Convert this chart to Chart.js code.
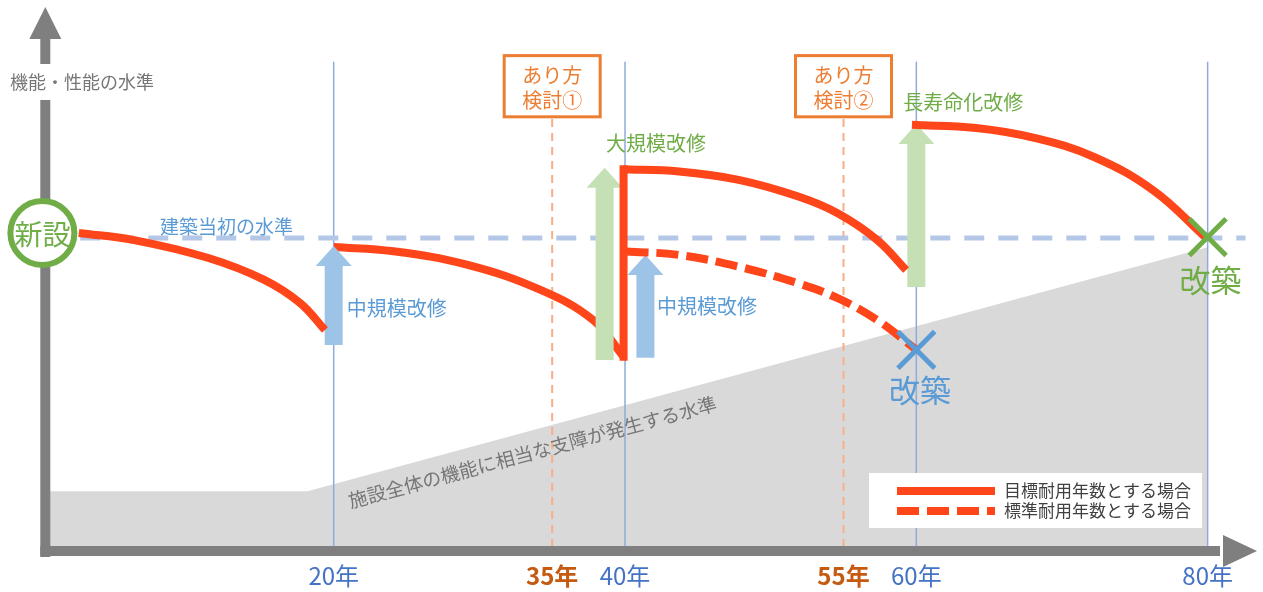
<!DOCTYPE html>
<html lang="ja">
<head>
<meta charset="utf-8">
<title>施設の長寿命化イメージ</title>
<script src="https://cdn.jsdelivr.net/npm/chart.js@4.4.1/dist/chart.umd.min.js"></script>
<style>
  html, body { margin: 0; padding: 0; background: #fff; }
  #wrap { width: 1263px; height: 592px; position: relative; }
</style>
</head>
<body>
<div id="wrap"><canvas id="chartKaishu"></canvas></div>
<script>
// ---- data (years on x, level of function on y; 100 = level when built) ----
const tickYears = [20, 35, 40, 55, 60, 80];
const reviewYears = [35, 55];
const reviewLabels = [['あり方', '検討①'], ['あり方', '検討②']];
const repairYears = [20, 40, 60, 80];

const initialLevel = 100;

const curve1Years = [2.5, 6.3, 11.4, 15.2, 17.7, 19.4];
const curve1Level = [101.6, 99.3, 93.5, 86.5, 78.9, 70.2];

const curve2Years = [20, 24.1, 29.2, 34.2, 37.8, 39.9];
const curve2Level = [97.1, 95.7, 91.3, 83.2, 73.5, 61.6];

const jumpYears = [39.9, 39.9];
const jumpLevel = [61.6, 122.2];

const curve3Years = [39.9, 43.7, 47.8, 51.9, 54.6, 57.3, 59.3];
const curve3Level = [122.2, 121.5, 118.8, 113.4, 108.0, 99.4, 89.6];

const standardYears = [40.1, 43.7, 47.8, 51.9, 54.6, 57.3, 60];
const standardLevel = [95.6, 94.5, 90.7, 85.3, 80.5, 73.5, 63.8];

const curve4Years = [59.7, 64.1, 68.1, 72.2, 76.3, 79.8];
const curve4Level = [136.6, 135.6, 132.4, 126.2, 115.3, 100.4];

const limitYears = [0.5, 18.2, 80];
const limitLevel = [18, 18, 97];

const rebuildYears = [60, 80];
const rebuildLevel = [63.8, 100.3];

// arrows: year, bottom level, tip level
const midRepairs = [[20, 65.4, 97.4], [41.4, 61.2, 94.5]];
const bigRepairs = [[38.6, 60.5, 122.7], [60, 84.1, 136.9]];

const legendLabels = ['目標耐用年数とする場合', '標準耐用年数とする場合'];

// ---- helpers ----
const FONT = '"Noto Sans CJK JP", "Noto Sans", sans-serif';
const RED = '#ff451a';
const BLUE_TXT = '#5b9bd5';
const GREEN = '#70ad47';
const ORANGE = '#ed7d31';
const GRAY = '#7f7f7f';

const pts = (xs, ys) => xs.map((x, i) => ({ x: x, y: ys[i] }));
const isReview = c => !!(c && c.tick && reviewYears.includes(c.tick.value));

function lineSet(label, data, color, width, order, extra) {
    return Object.assign({
        label: label,
        data: data,
        borderColor: color,
        borderWidth: width,
        pointRadius: 0,
        fill: false,
        tension: 0,
        order: order
    }, extra || {});
}

const datasets = [];

datasets.push(lineSet('limit', pts(limitYears, limitLevel), 'rgba(0,0,0,0)', 0, 20, {
    fill: 'origin', backgroundColor: '#d9d9d9'
}));

repairYears.forEach(y => {
    datasets.push(lineSet('repair' + y, pts([y, y], [0, 157]), '#8faadc', 1.5, 18));
});
reviewYears.forEach(y => {
    datasets.push(lineSet('review' + y, pts([y, y], [0, 138.8]), '#f4b183', 2, 18, { borderDash: [8, 6] }));
});

datasets.push(lineSet('initial', pts([2.6, 82.6], [initialLevel, initialLevel]), '#b4c7e7', 5, 16, { borderDash: [20, 14] }));

const smooth = { tension: 0.4, borderCapStyle: 'butt' };
datasets.push(lineSet('curve1', pts(curve1Years, curve1Level), RED, 8, 12, smooth));
datasets.push(lineSet('curve2', pts(curve2Years, curve2Level), RED, 8, 12, smooth));
datasets.push(lineSet('jump', pts(jumpYears, jumpLevel), RED, 8, 8, { borderCapStyle: 'square' }));
datasets.push(lineSet('curve3', pts(curve3Years, curve3Level), RED, 8, 8, smooth));
datasets.push(lineSet('standard', pts(standardYears, standardLevel), RED, 8, 8, Object.assign({ borderDash: [22, 8] }, smooth)));
datasets.push(lineSet('curve4', pts(curve4Years, curve4Level), RED, 8, 8, smooth));

datasets.push({
    label: 'rebuild',
    data: pts(rebuildYears, rebuildLevel),
    showLine: false,
    pointStyle: 'crossRot',
    pointRadius: 26,
    pointBorderWidth: 5,
    pointBorderColor: ['#5b9bd5', GREEN],
    clip: false,
    order: 2
});

const curve2Index = datasets.findIndex(d => d.label === 'curve2');

// ---- drawing helpers ----
function drawArrow(ctx, x, yBottom, yTip, color) {
    const shaft = 18, head = 36, headH = 20;
    ctx.fillStyle = color;
    ctx.beginPath();
    ctx.moveTo(x - shaft / 2, yBottom);
    ctx.lineTo(x - shaft / 2, yTip + headH);
    ctx.lineTo(x - head / 2, yTip + headH);
    ctx.lineTo(x, yTip);
    ctx.lineTo(x + head / 2, yTip + headH);
    ctx.lineTo(x + shaft / 2, yTip + headH);
    ctx.lineTo(x + shaft / 2, yBottom);
    ctx.closePath();
    ctx.fill();
}

function text(ctx, str, x, y, size, color, align, weight) {
    ctx.font = (weight || 'normal') + ' ' + size + 'px ' + FONT;
    ctx.fillStyle = color;
    ctx.textAlign = align || 'left';
    ctx.textBaseline = 'middle';
    ctx.fillText(str, x, y);
}

const decor = {
    id: 'decor',
    afterDatasetDraw(chart, args) {
        if (args.index !== curve2Index) return;
        const { ctx, scales: { x, y } } = chart;
        ctx.save();
        midRepairs.forEach(a => drawArrow(ctx, x.getPixelForValue(a[0]), y.getPixelForValue(a[1]), y.getPixelForValue(a[2]), '#9dc3e6'));
        bigRepairs.forEach(a => drawArrow(ctx, x.getPixelForValue(a[0]), y.getPixelForValue(a[1]), y.getPixelForValue(a[2]), '#c5e0b4'));
        ctx.restore();
    },
    afterDatasetsDraw(chart) {
        const { ctx, scales: { x, y }, chartArea } = chart;
        const X = v => x.getPixelForValue(v);
        const Y = v => y.getPixelForValue(v);
        ctx.save();

        // axes with arrow heads
        const ax = X(0.2), ay = chartArea.bottom + 4;
        ctx.fillStyle = GRAY;
        ctx.fillRect(ax - 5, 38, 10, ay - 38 + 6);
        ctx.beginPath();
        ctx.moveTo(ax - 16, 39); ctx.lineTo(ax + 16, 39); ctx.lineTo(ax, 7);
        ctx.closePath(); ctx.fill();
        ctx.fillRect(ax - 5, ay - 5, 1225 - ax, 10);
        ctx.beginPath();
        ctx.moveTo(1223, ay - 16); ctx.lineTo(1223, ay + 16); ctx.lineTo(1257, ay);
        ctx.closePath(); ctx.fill();

        // y axis title
        ctx.fillStyle = '#fff';
        ctx.fillRect(6, 64, 160, 36);
        text(ctx, '機能・性能の水準', 10, Y(150.5), 18, '#767676');

        // review boxes
        reviewYears.forEach((yr, i) => {
            const cx = X(yr);
            const top = Y(159), bot = Y(139.2);
            ctx.fillStyle = '#fff';
            ctx.fillRect(cx - 48, top, 96, bot - top);
            ctx.strokeStyle = ORANGE;
            ctx.lineWidth = 3;
            ctx.strokeRect(cx - 48, top, 96, bot - top);
            text(ctx, reviewLabels[i][0], cx, top + 20, 20, ORANGE, 'center');
            text(ctx, reviewLabels[i][1], cx, top + 45, 20, ORANGE, 'center');
        });

        // labels
        text(ctx, '建築当初の水準', X(8.07), Y(103.6), 19, BLUE_TXT);
        text(ctx, '中規模改修', X(20.9), Y(77.3), 20, BLUE_TXT);
        text(ctx, '中規模改修', X(42.2), Y(78), 20, BLUE_TXT);
        text(ctx, '大規模改修', X(38.7), Y(130.7), 20, GREEN);
        text(ctx, '長寿命化改修', X(59.1), Y(144), 20, GREEN);
        text(ctx, '改築', X(60.25), Y(50.8), 31, '#5b9bd5', 'center');
        text(ctx, '改築', X(80.2), Y(86.4), 31, GREEN, 'center');

        // rotated limit label
        ctx.save();
        ctx.translate(X(33.65), Y(30.7));
        ctx.rotate(-15 * Math.PI / 180);
        text(ctx, '施設全体の機能に相当な支障が発生する水準', 0, 0, 19, '#767676', 'center');
        ctx.restore();

        // 新設 circle
        const cx0 = X(0), cy0 = Y(initialLevel + 1.6);
        ctx.beginPath();
        ctx.arc(cx0, cy0, 32, 0, Math.PI * 2);
        ctx.fillStyle = '#fff';
        ctx.fill();
        ctx.lineWidth = 6;
        ctx.strokeStyle = GREEN;
        ctx.stroke();
        text(ctx, '新設', cx0, cy0 + 1, 28, GREEN, 'center');

        // legend
        const lx = chartArea.right - 394, ly = chartArea.bottom - 74;
        ctx.fillStyle = '#fff';
        ctx.fillRect(lx, ly, 333, 55);
        ctx.strokeStyle = RED;
        ctx.lineWidth = 8;
        legendLabels.forEach((lab, i) => {
            const yy = ly + 18 + i * 20;
            ctx.setLineDash(i === 0 ? [] : [22, 8]);
            ctx.beginPath();
            ctx.moveTo(lx + 28, yy);
            ctx.lineTo(lx + 126, yy);
            ctx.stroke();
            text(ctx, lab, lx + 135, yy, 17, '#404040');
        });
        ctx.setLineDash([]);
        ctx.restore();
    }
};

new Chart(document.getElementById('chartKaishu'), {
    type: 'line',
    data: { datasets: datasets },
    options: {
        responsive: true,
        maintainAspectRatio: false,
        animation: false,
        events: [],
        layout: { padding: 0, autoPadding: false },
        plugins: {
            legend: { display: false },
            tooltip: { enabled: false }
        },
        scales: {
            x: {
                type: 'linear',
                min: -2.91,
                max: 83.8,
                grid: { display: false, drawTicks: false },
                border: { display: false },
                afterBuildTicks: s => { s.ticks = tickYears.map(v => ({ value: v })); },
                afterFit: s => { s.height = 45; },
                ticks: {
                    autoSkip: false,
                    maxRotation: 0,
                    padding: 14,
                    callback: v => v + '年',
                    color: c => isReview(c) ? '#c55a11' : '#4472c4',
                    font: c => ({ family: FONT, size: 24, weight: isReview(c) ? 'bold' : 'normal' })
                }
            },
            y: { display: false, min: 0, max: 177 }
        }
    },
    plugins: [decor]
});
</script>
</body>
</html>
